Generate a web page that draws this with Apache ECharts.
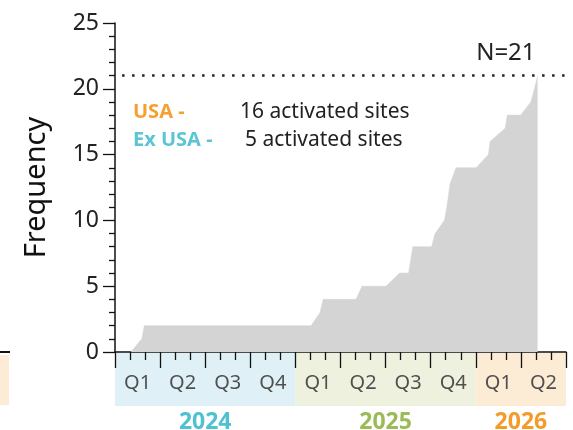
<!DOCTYPE html>
<html><head><meta charset="utf-8">
<script src="https://cdn.jsdelivr.net/npm/echarts@6/dist/echarts.min.js"></script>
<style>html,body{margin:0;padding:0;background:#fff}#c{width:573px;height:430px}</style>
</head><body><div id="c"></div>
<script>
// months since Jan 2024 (x) and cumulative activated sites (y)
const monthX = [1.06, 1.78, 1.95, 13.04, 13.64, 13.84, 16.03, 16.43, 18.03, 18.93, 19.53, 19.81, 21.06, 21.29, 21.91, 22.07, 22.29, 22.69, 24.02, 24.84, 24.95, 25.95, 26.10, 26.99, 27.66, 27.90, 28.11];
const sites  = [0, 1, 2, 2, 3, 4, 4, 5, 5, 6, 6, 8, 8, 9, 10, 11, 12.8, 14, 14, 15, 16, 17, 18, 18, 19, 20, 21];
const quarters = ['Q1','Q2','Q3','Q4','Q1','Q2','Q3','Q4','Q1','Q2'];
const years = ['2024','2025','2026'];
const yearStart = [0, 12, 24];
const yearEnd = [12, 24, 30];
const yearColors = ['#4fc1d1', '#9bbb59', '#f39c2a'];
const bandColors = ['#dff1f6', '#edf1de', '#fcebd5'];
const totalN = 21;

const FONT = 'Noto Sans';
const chart = echarts.init(document.getElementById('c'));
const pts = monthX.map((x, i) => [x, sites[i]]);
chart.setOption({
  animation: false,
  textStyle: { fontFamily: FONT },
  grid: { left: 115, right: 7, top: 23, bottom: 78 },
  xAxis: [{
    type: 'value', min: 0, max: 30, interval: 3,
    axisLine: { show: true, onZero: false, lineStyle: { color: '#111', width: 1.5 } },
    axisTick: { show: true, length: 16, lineStyle: { color: '#111', width: 1.3 } },
    minorTick: { show: true, splitNumber: 3, length: 8, lineStyle: { color: '#111', width: 1.3 } },
    axisLabel: { show: false },
    splitLine: { show: false }
  }, {
    type: 'category', data: quarters, position: 'bottom', boundaryGap: true,
    axisLine: { show: false }, axisTick: { show: false },
    axisLabel: { fontSize: 20, color: '#505050', margin: 21, fontFamily: FONT }
  }],
  yAxis: {
    type: 'value', min: 0, max: 25, interval: 5,
    name: 'Frequency', nameLocation: 'middle', nameGap: 64, nameRotate: 90,
    nameTextStyle: { fontSize: 29, color: '#111', fontFamily: FONT },
    axisLine: { show: true, lineStyle: { color: '#111', width: 1.5 } },
    axisTick: { show: true, length: 12, lineStyle: { color: '#111', width: 1.3 } },
    minorTick: { show: true, splitNumber: 5, length: 6, lineStyle: { color: '#111', width: 1.3 } },
    axisLabel: { fontSize: 23, color: '#222', margin: 16, fontFamily: FONT },
    splitLine: { show: false }
  },
  series: [{
    type: 'line', data: pts, showSymbol: false, xAxisIndex: 0,
    lineStyle: { width: 0.5, color: '#d4d4d4' },
    areaStyle: { color: '#d4d4d4', opacity: 1 },
    markLine: {
      silent: true, symbol: 'none', label: { show: false },
      lineStyle: { color: '#222', type: [2.5, 7.5], width: 2.5 },
      data: [[{ coord: [0.47, totalN] }, { coord: [30, totalN] }]]
    }
  }]
});

const px = v => chart.convertToPixel({ xAxisIndex: 0 }, v);
const py = v => chart.convertToPixel({ yAxisIndex: 0 }, v);
const y0 = py(0);
const g = [];
years.forEach((yr, i) => {
  const a = px(yearStart[i]), b = px(yearEnd[i]);
  g.push({ type: 'rect', z: -10, shape: { x: a, y: y0 + 1, width: b - a, height: 53 }, style: { fill: bandColors[i] } });
  g.push({ type: 'text', x: (a + b) / 2, y: y0 + 70, style: { text: yr, fill: yearColors[i], font: 'bold 23px "Noto Sans"', textAlign: 'center', textVerticalAlign: 'middle' } });
});
g.push({ type: 'text', x: px(26), y: py(22.7), style: { text: 'N=' + totalN, fill: '#222', font: '24px "Noto Sans"', textAlign: 'center', textVerticalAlign: 'middle' } });
g.push({ type: 'text', x: 133, y: 112, style: { text: 'USA -', fill: '#f5a030', font: 'bold 20px "Noto Sans"', textVerticalAlign: 'middle' } });
g.push({ type: 'text', x: 240, y: 112, style: { text: '16 activated sites', fill: '#222', font: '21px "Noto Sans"', textVerticalAlign: 'middle' } });
g.push({ type: 'text', x: 133, y: 140, style: { text: 'Ex USA -', fill: '#5bc5d3', font: 'bold 20px "Noto Sans"', textVerticalAlign: 'middle' } });
g.push({ type: 'text', x: 245, y: 140, style: { text: '5 activated sites', fill: '#222', font: '21px "Noto Sans"', textVerticalAlign: 'middle' } });
// cropped fragment of neighbouring panel at left edge
g.push({ type: 'rect', shape: { x: 0, y: 355, width: 9, height: 50 }, style: { fill: '#fcebd5' } });
g.push({ type: 'line', shape: { x1: 0, y1: 352, x2: 10, y2: 352 }, style: { stroke: '#111', lineWidth: 2 } });
chart.setOption({ graphic: g });
</script></body></html>
